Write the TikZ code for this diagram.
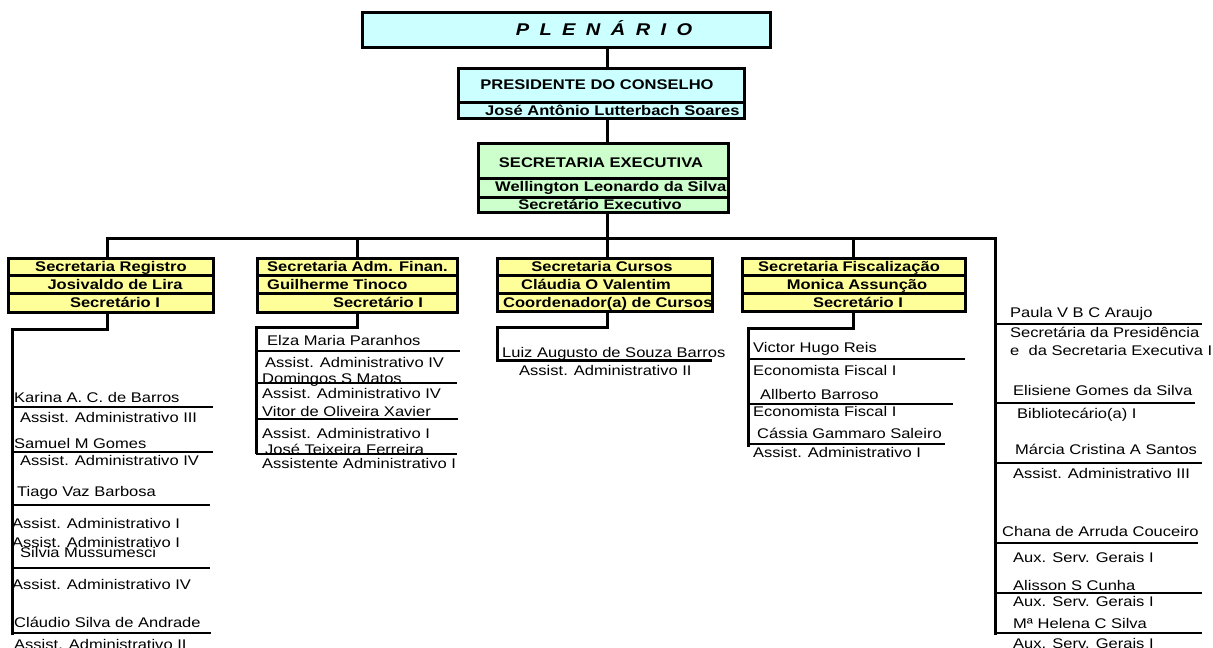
\documentclass[tikz,border=0pt]{standalone}
\usepackage{fontspec}
\newfontfamily\arialf[FakeStretch=1.18]{Liberation Sans}
\definecolor{cyanbox}{HTML}{CCFFFF}
\definecolor{greenbox}{HTML}{CCFFCC}
\definecolor{yellowbox}{HTML}{FFFF99}
\newcommand\sline[4]{\node[txt] (#1) at (#2,#3+5) {#4};}
\begin{document}
\begin{tikzpicture}[x=1pt,y=-1pt,
  conn/.style={line width=3pt},
  orgbox/.style={draw, line width=3pt, inner sep=0pt, outer sep=0pt, anchor=north west},
  divider/.style={line width=3pt},
  uline/.style={line width=2.8pt},
  thinline/.style={line width=1.8pt},
  txt/.style={font=\arialf\fontsize{14}{16}\selectfont, inner sep=0pt, anchor=base west},
  btxt/.style={font=\arialf\bfseries\fontsize{14}{16}\selectfont, inner sep=0pt, anchor=base west},
  bctxt/.style={btxt, anchor=base}]
\useasboundingbox (0,0) rectangle (1213,648);

% ---------- top boxes ----------
\node[orgbox, fill=cyanbox, minimum width=408pt, minimum height=35pt] (plen) at (362,12) {};
\node[font=\arialf\bfseries\itshape\fontsize{17}{19}\selectfont, inner sep=0pt, anchor=base] (plent) at (604,35.5)
  {P\hspace{10.4pt}L\hspace{10.4pt}E\hspace{10.4pt}N\hspace{10.4pt}Á\hspace{10.4pt}R\hspace{10.4pt}I\hspace{10.4pt}O};

\node[orgbox, fill=cyanbox, minimum width=286pt, minimum height=50pt] (pres) at (458,68) {};
\draw[divider] (458,102) -- (744,102);
\node[bctxt] (prest) at (597,89) {PRESIDENTE DO CONSELHO};
\node[btxt] (presn) at (485,115) {José Antônio Lutterbach Soares};

\node[orgbox, fill=greenbox, minimum width=250pt, minimum height=69pt] (sec) at (478,143) {};
\draw[divider] (478,178) -- (728,178);
\draw[divider] (478,197) -- (728,197);
\node[bctxt] (sect) at (601,167) {SECRETARIA EXECUTIVA};
\node[btxt] (secn) at (495,191) {Wellington Leonardo da Silva};
\node[bctxt] (secc) at (600,209) {Secretário Executivo};

% ---------- coordinates ----------
\coordinate (bar1) at (107,238);
\coordinate (bar2) at (357,238);
\coordinate (bar3) at (607,238);
\coordinate (bar4) at (853,238);
\coordinate (bar5) at (995,238);
\coordinate (c5end) at (995,635);

% ---------- department boxes ----------
\node[orgbox, fill=yellowbox, minimum width=205pt, minimum height=54pt] (c1) at (8,258) {};
\draw[divider] (8,275) -- (213,275);
\draw[divider] (8,293) -- (213,293);
\node[bctxt] (c1a) at (111,271) {Secretaria Registro};
\node[bctxt] (c1b) at (115,289) {Josivaldo de Lira};
\node[bctxt] (c1c) at (115,307) {Secretário I};

\node[orgbox, fill=yellowbox, minimum width=200pt, minimum height=54pt] (c2) at (257,258) {};
\draw[divider] (257,275) -- (457,275);
\draw[divider] (257,293) -- (457,293);
\node[btxt] (c2a) at (267,271) {Secretaria Adm. Finan.};
\node[btxt] (c2b) at (267,289) {Guilherme Tinoco};
\node[bctxt] (c2c) at (378,307) {Secretário I};

\node[orgbox, fill=yellowbox, minimum width=215pt, minimum height=53pt] (c3) at (497,258) {};
\draw[divider] (497,275) -- (712,275);
\draw[divider] (497,293) -- (712,293);
\node[bctxt] (c3a) at (602,271) {Secretaria Cursos};
\node[bctxt] (c3b) at (596,289) {Cláudia O Valentim};
\node[btxt] (c3c) at (503,307) {Coordenador(a) de Cursos};

\node[orgbox, fill=yellowbox, minimum width=223pt, minimum height=53pt] (c4) at (742,258) {};
\draw[divider] (742,275) -- (965,275);
\draw[divider] (742,293) -- (965,293);
\node[bctxt] (c4a) at (849,271) {Secretaria Fiscalização};
\node[bctxt] (c4b) at (857,289) {Monica Assunção};
\node[bctxt] (c4c) at (858,307) {Secretário I};

% ---------- connectors ----------
\draw[conn] (plen.south -| bar3) -- (pres.north -| bar3);
\draw[conn] (pres.south -| bar3) -- (sec.north -| bar3);
\draw[conn] (sec.south -| bar3) -- (c3.north -| bar3);
\draw[conn] (c1.north -| bar1) -- (bar1) -- (bar5) -- (c5end);
\draw[conn] (bar2) -- (c2.north -| bar2);
\draw[conn] (bar4) -- (c4.north -| bar4);

\coordinate (c1elb) at (12,329);  \coordinate (c1end) at (12,635);
\coordinate (c2elb) at (256,327); \coordinate (c2end) at (256,454);
\coordinate (c3elb) at (497,327); \coordinate (c3end) at (497,360); \coordinate (c3r) at (712,360);
\coordinate (c4elb) at (748,328); \coordinate (c4end) at (748,447);
\draw[conn] (c1.south -| bar1) |- (c1elb) -- (c1end);
\draw[conn] (c2.south -| bar2) |- (c2elb) -- (c2end);
\draw[conn] (c3.south -| bar3) |- (c3elb) -- (c3end) -- (c3r);
\draw[conn] (c4.south -| bar4) |- (c4elb) -- (c4end);

% ---------- staff underlines ----------
\draw[uline] (12,407) -- (213,407);
\draw[uline] (12,452) -- (213,452);
\draw[uline] (12,505) -- (210,505);
\draw[uline] (12,568) -- (210,568);
\draw[uline] (12,633) -- (211,633);

\draw[uline] (256,351) -- (460,351);
\draw[uline] (256,383) -- (457,383);
\draw[uline] (256,419) -- (458,419);
\draw[uline] (256,454) -- (457,454);

\draw[uline] (748,359) -- (965,359);
\draw[uline] (748,404) -- (953,404);
\draw[uline] (748,444) -- (945,444);

\draw[uline] (995,324) -- (1202,324);
\draw[uline] (995,403) -- (1195,403);
\draw[uline] (995,463) -- (1202,463);
\draw[uline] (995,543) -- (1198,543);
\draw[thinline] (995,593) -- (1202,593);
\draw[uline] (995,633) -- (1202,633);

% ---------- staff texts ----------
\sline{s11}{14}{397}{Karina A. C. de Barros}
\sline{s12}{20}{417}{Assist. Administrativo III}
\sline{s13}{14}{443}{Samuel M Gomes}
\sline{s14}{20}{460}{Assist. Administrativo IV}
\sline{s15}{17}{491}{Tiago Vaz Barbosa}
\sline{s16}{12}{523}{Assist. Administrativo I}
\sline{s17}{12}{542}{Assist. Administrativo I}
\sline{s18}{20}{552}{Silvia Mussumesci}
\sline{s19}{12}{584}{Assist. Administrativo IV}
\sline{s1a}{14}{622}{Cláudio Silva de Andrade}
\sline{s1b}{14}{644}{Assist. Administrativo II}

\sline{s21}{267}{340}{Elza Maria Paranhos}
\sline{s22}{265}{362}{Assist. Administrativo IV}
\sline{s23}{262}{378}{Domingos S Matos}
\sline{s24}{262}{393}{Assist. Administrativo IV}
\sline{s25}{262}{411}{Vitor de Oliveira Xavier}
\sline{s26}{262}{433}{Assist. Administrativo I}
\sline{s27}{265}{449}{José Teixeira Ferreira}
\sline{s28}{262}{463}{Assistente Administrativo I}

\sline{s31}{502}{352}{Luiz Augusto de Souza Barros}
\sline{s32}{519}{370}{Assist. Administrativo II}

\sline{s41}{753}{347}{Victor Hugo Reis}
\sline{s42}{753}{370}{Economista Fiscal I}
\sline{s43}{760}{394}{Allberto Barroso}
\sline{s44}{753}{411}{Economista Fiscal I}
\sline{s45}{757}{433}{Cássia Gammaro Saleiro}
\sline{s46}{753}{452}{Assist. Administrativo I}

\sline{s51}{1010}{312}{Paula V B C Araujo}
\sline{s52}{1010}{332}{Secretária da Presidência}
\sline{s53}{1010}{350}{e \ da Secretaria Executiva I}
\sline{s54}{1013}{390}{Elisiene Gomes da Silva}
\sline{s55}{1017}{413}{Bibliotecário(a) I}
\sline{s56}{1015}{449}{Márcia Cristina A Santos}
\sline{s57}{1013}{473}{Assist. Administrativo III}
\sline{s58}{1002}{531}{Chana de Arruda Couceiro}
\sline{s59}{1013}{557}{Aux. Serv. Gerais I}
\sline{s5a}{1013}{585}{Alisson S Cunha}
\sline{s5b}{1013}{601}{Aux. Serv. Gerais I}
\sline{s5c}{1013}{623}{Mª Helena C Silva}
\sline{s5d}{1013}{643}{Aux. Serv. Gerais I}
\end{tikzpicture}
\end{document}
